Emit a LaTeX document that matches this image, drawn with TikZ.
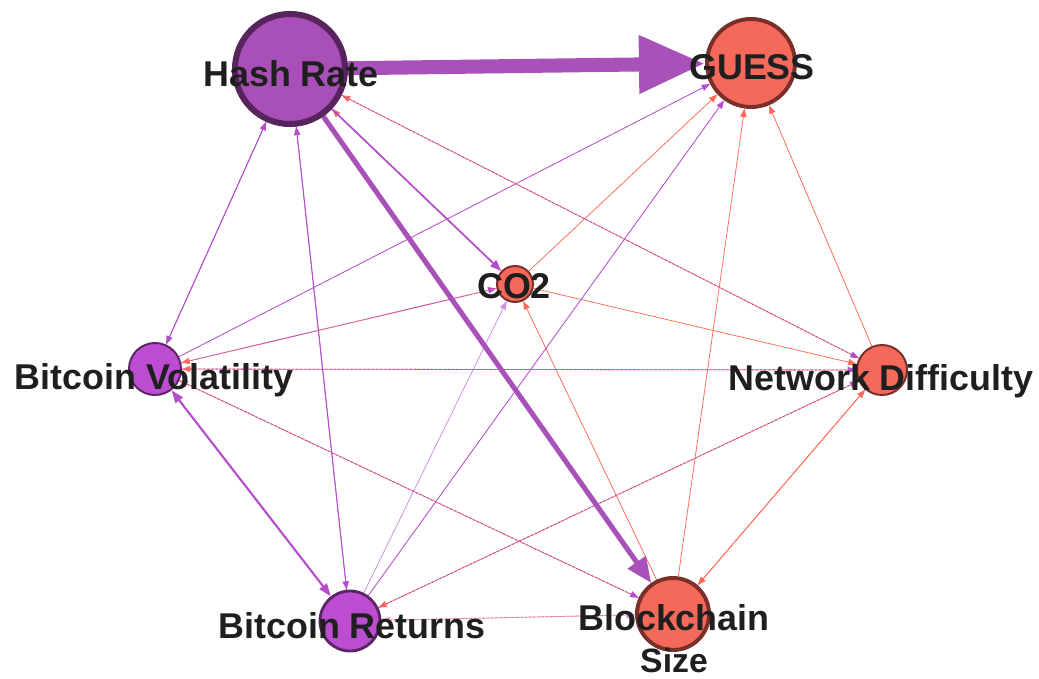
\documentclass[tikz,border=0pt]{standalone}
\usepackage{fontspec}
\setmainfont{Liberation Sans}
\usetikzlibrary{arrows.meta}

\definecolor{hrfill}{HTML}{A94FB8}
\definecolor{hrborder}{HTML}{58245E}
\definecolor{pfill}{HTML}{BC4DD0}
\definecolor{pborder}{HTML}{5C2466}
\definecolor{rfill}{HTML}{F4695A}
\definecolor{rborder}{HTML}{7A3029}
\definecolor{pline}{HTML}{B44CCB}
\definecolor{pthick}{HTML}{A851B8}
\definecolor{rline}{HTML}{FF6B5A}

\pgfdeclarelayer{edges}
\pgfsetlayers{edges,main}

\tikzset{
  pnode/.style={circle,draw=pborder,fill=pfill,line width=1.4pt,inner sep=0pt},
  rnode/.style={circle,draw=rborder,fill=rfill,line width=1.4pt,inner sep=0pt},
  lbl/.style={font=\fontsize{25.5}{28}\selectfont\bfseries,text=black!88,anchor=base,inner sep=0pt},
  pe/.style={draw=pline,line width=0.6pt,-{Triangle[length=6pt,width=4.5pt]}},
  re/.style={draw=rline,line width=0.55pt,-{Triangle[length=6pt,width=4.5pt]}},
  over/.style={dash pattern=on 1.5pt off 1.5pt}
}

\begin{document}
\begin{tikzpicture}[x=0.025cm,y=-0.025cm]
        \useasboundingbox (0,0) rectangle (1039,678);

        % nodes
        \node[pnode,fill=hrfill,draw=hrborder,line width=4.3pt,minimum size=2.75cm] (HR) at (290,69) {};
        \node[rnode,line width=2.8pt,minimum size=2.2cm] (GU) at (751,63) {};
        \node[rnode,minimum size=0.9cm] (CO) at (515,284) {};
        \node[pnode,minimum size=1.3cm] (BV) at (155,369) {};
        \node[rnode,minimum size=1.25cm] (ND) at (882,370) {};
        \node[pnode,line width=2pt,minimum size=1.5cm] (BR) at (350,621) {};
        \node[rnode,line width=2.8pt,minimum size=1.8cm] (BS) at (673,614) {};

        \begin{pgfonlayer}{edges}
        % red sources
        \draw[re] (CO) -- (GU);
        \draw[re] (CO) -- (ND);
        \draw[re] (BS) -- (CO);
        \draw[re] (BS) -- (GU);
        \draw[re] (ND) -- (GU);
        \draw[re] (BS) -- (ND);
        \draw[re] (ND) -- (BS);

        % purple sources
        \draw[pe] (BV) -- (GU);
        \draw[pe,draw=pline!60] (BR) -- (CO);
        \draw[pe] (BR) -- (GU);
        \draw[pe] (HR) -- (BV);
        \draw[pe] (BV) -- (HR);
        \draw[pe] (HR) -- (BR);
        \draw[pe] (BR) -- (HR);

        % both ways
        \draw[re] (ND) -- (BV);
        \draw[pe,over] (BV) -- (ND);
        \draw[re] (ND) -- (HR);
        \draw[pe,over] (HR) -- (ND);
        \draw[re] (BS) -- (BV);
        \draw[pe,over] (BV) -- (BS);
        \draw[re] (ND) -- (BR);
        \draw[pe,over] (BR) -- (ND);
        \draw[re,draw=rline!70] (BS) -- (BR);
        \draw[pe,over,draw=pline!70] (BR) -- (BS);
        \draw[pe] (BV) -- (CO);
        \draw[re,over] (CO) -- (BV);
        \draw[re] (CO) -- (HR);

        % heavy ones
        \draw[pe,line width=1.2pt,-{Triangle[length=8pt,width=6pt]}] (HR) -- (CO);
        \draw[pe,line width=1.5pt,{Triangle[length=9pt,width=6.5pt]}-{Triangle[length=9pt,width=6.5pt]}] (BV) -- (BR);
        \draw[pthick,line width=3.6pt,-{Triangle[length=18pt,width=15pt]}] (HR) -- (BS);
        \draw[pthick,line width=10pt,-{Triangle[length=47pt,width=39pt]}] (HR) -- (GU);
        \end{pgfonlayer}

        % labels
        \node[lbl] (HRl) at (291,86) {Hash Rate};
        \node[lbl] (GUl) at (752,79) {GUESS};
        \node[lbl] (COl) at (514,298) {CO2};
        \node[lbl] (BVl) at (154,389) {Bitcoin Volatility};
        \node[lbl] (NDl) at (881,390) {Network Difficulty};
        \node[lbl] (BRl) at (352,638) {Bitcoin Returns};
        \node[lbl] (BSl) at (674,630) {Blockchain};
        \node[lbl,font=\fontsize{24}{26}\selectfont\bfseries] (BSm) at (674,672) {Size};
\end{tikzpicture}
\end{document}
